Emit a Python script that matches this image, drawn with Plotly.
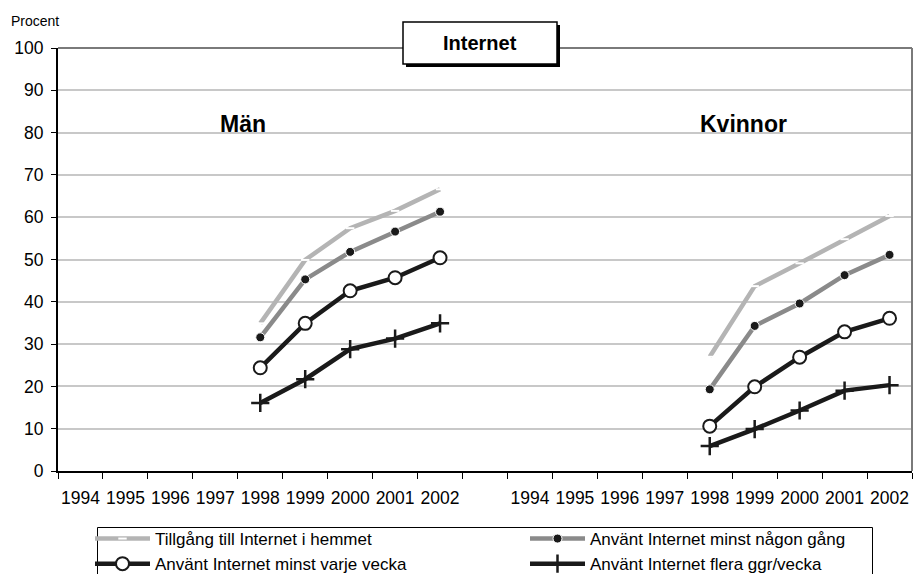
import plotly.graph_objects as go

years = ["1994", "1995", "1996", "1997", "1998", "1999", "2000", "2001", "2002"]
data_years = ["1998", "1999", "2000", "2001", "2002"]
groups = ["Män", "Kvinnor"]

series_names = [
    "Tillgång till Internet i hemmet",
    "Använt Internet minst någon gång",
    "Använt Internet minst varje vecka",
    "Använt Internet flera ggr/vecka",
]

man_tillgang = [34.9, 49.9, 57.4, 61.5, 66.6]
man_nagon = [31.6, 45.3, 51.8, 56.6, 61.3]
man_varje = [24.4, 34.9, 42.6, 45.7, 50.4]
man_flera = [16.1, 21.7, 28.8, 31.3, 34.9]

kv_tillgang = [27.0, 43.7, 49.1, 54.8, 60.3]
kv_nagon = [19.3, 34.3, 39.6, 46.3, 51.1]
kv_varje = [10.6, 19.9, 26.9, 32.9, 36.1]
kv_flera = [5.9, 9.9, 14.3, 19.0, 20.3]

men_values = [man_tillgang, man_nagon, man_varje, man_flera]
women_values = [kv_tillgang, kv_nagon, kv_varje, kv_flera]
legend_column = ["legend", "legend2", "legend", "legend2"]

# category positions: 9 years, one empty slot, 9 years
n = len(years)
men_pos = [years.index(y) for y in data_years]
women_pos = [n + 1 + years.index(y) for y in data_years]
all_pos = list(range(n)) + list(range(n + 1, 2 * n + 1))
all_labels = years + years
boundaries = [p - 0.5 for p in range(2 * n + 2)]

BLACK = "#1a1a1a"
styles = [
    dict(line=dict(color="#b4b4b4", width=4.5),
         marker=dict(symbol="line-ew", size=6, color="white",
                     line=dict(color="white", width=2))),
    dict(line=dict(color="#8a8a8a", width=4.5),
         marker=dict(symbol="circle", size=9, color=BLACK,
                     line=dict(color="white", width=1))),
    dict(line=dict(color=BLACK, width=4.5),
         marker=dict(symbol="circle", size=13, color="white",
                     line=dict(color=BLACK, width=2))),
    dict(line=dict(color=BLACK, width=4.5),
         marker=dict(symbol="cross-thin", size=13, color=BLACK,
                     line=dict(color=BLACK, width=2.5))),
]

fig = go.Figure()
for name, mv, wv, st, lg in zip(series_names, men_values, women_values, styles, legend_column):
    fig.add_trace(go.Scatter(
        x=men_pos + [None] + women_pos,
        y=mv + [None] + wv,
        mode="lines+markers",
        name=name,
        line=st["line"],
        marker=st["marker"],
        connectgaps=False,
        legend=lg,
    ))

FONT = "Liberation Sans, Arial, sans-serif"

legend_common = dict(
    orientation="v",
    xref="container", yref="container",
    xanchor="left", yanchor="top",
    borderwidth=0, bgcolor="rgba(0,0,0,0)",
    font=dict(size=17, family=FONT),
    itemwidth=55, tracegroupgap=0,
)

fig.update_layout(
    width=916, height=574,
    autosize=False,
    margin=dict(l=58, r=4, t=48, b=103, autoexpand=False),
    paper_bgcolor="white", plot_bgcolor="white",
    font=dict(family=FONT, color="black", size=16),
    showlegend=True,
    legend=dict(legend_common, x=90 / 916, y=1 - 521 / 574),
    legend2=dict(legend_common, x=525 / 916, y=1 - 521 / 574),
    xaxis=dict(
        range=[-0.5, 2 * n + 0.5], automargin=False,
        tickmode="array", tickvals=all_pos, ticktext=all_labels,
        ticks="", showgrid=False, zeroline=False,
        showline=True, linecolor="black", linewidth=2,
        tickfont=dict(size=17.5, family=FONT),
        ticklabelstandoff=10,
        minor=dict(tickmode="array", tickvals=boundaries, ticks="outside",
                   ticklen=6, tickcolor="black", tickwidth=1, showgrid=False),
    ),
    yaxis=dict(
        range=[0, 100], automargin=False,
        tickmode="array", tickvals=list(range(0, 101, 10)),
        ticks="outside", ticklen=5, tickcolor="black",
        showgrid=True, gridcolor="#c8c8c8", gridwidth=2,
        zeroline=False, showline=True, linecolor="black", linewidth=2,
        tickfont=dict(size=17.5, family=FONT),
        ticklabelstandoff=4,
    ),
)

pw, ph = 854, 423
def px_x(v):
    return (v - 58) / pw
def px_y(v):
    return 1 - (v - 48) / ph

# plot frame top and right
fig.add_shape(type="line", xref="paper", yref="paper", x0=0, x1=1, y0=1, y1=1,
              line=dict(color="#7a7a7a", width=2), layer="above")
fig.add_shape(type="line", xref="paper", yref="paper", x0=1, x1=1, y0=0, y1=1,
              line=dict(color="#7a7a7a", width=2), layer="above")

# legend frame
fig.add_shape(type="rect", xref="paper", yref="paper",
              x0=px_x(97.5), x1=px_x(872.5), y0=px_y(590), y1=px_y(527.5),
              fillcolor="rgba(0,0,0,0)", line=dict(color="black", width=1), layer="below")

# title box with shadow
fig.add_shape(type="rect", xref="paper", yref="paper",
              x0=px_x(406), x1=px_x(560), y0=px_y(67), y1=px_y(25),
              fillcolor="black", line=dict(width=0), layer="above")
fig.add_shape(type="rect", xref="paper", yref="paper",
              x0=px_x(403), x1=px_x(557), y0=px_y(64), y1=px_y(22),
              fillcolor="white", line=dict(color="black", width=1.5), layer="above")

fig.add_annotation(text="<b>Internet</b>", xref="paper", yref="paper",
                   x=px_x(480), y=px_y(43), showarrow=False,
                   font=dict(size=20, family=FONT), xanchor="center", yanchor="middle")
fig.add_annotation(text="Procent", xref="paper", yref="paper",
                   x=px_x(9), y=px_y(21), showarrow=False,
                   font=dict(size=14, family=FONT), xanchor="left", yanchor="middle")
fig.add_annotation(text="<b>Män</b>", xref="x", yref="y",
                   x=3.62, y=82, showarrow=False,
                   font=dict(size=23, family=FONT), xanchor="center", yanchor="middle")
fig.add_annotation(text="<b>Kvinnor</b>", xref="x", yref="y",
                   x=14.74, y=82, showarrow=False,
                   font=dict(size=23, family=FONT), xanchor="center", yanchor="middle")

fig.write_html("out.html", config={"displayModeBar": False},
               post_script="document.body.style.margin='0';document.body.style.padding='0';")
